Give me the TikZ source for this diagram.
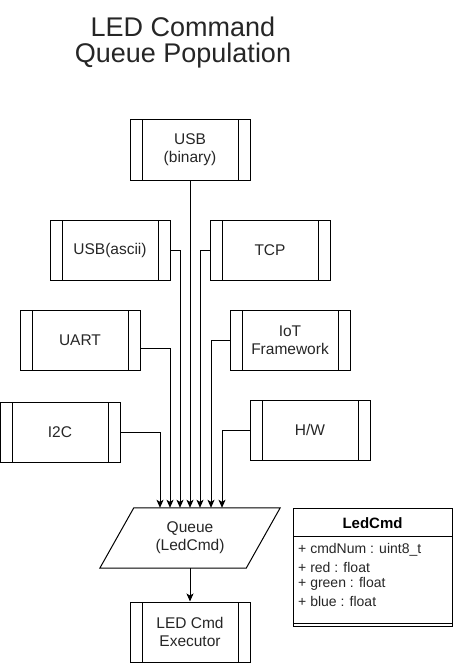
\documentclass[tikz,border=0pt]{standalone}
\usepackage{fontspec}
\setmainfont{Liberation Sans}
\usetikzlibrary{arrows.meta}
\begin{document}
\begin{tikzpicture}[x=1pt,y=-1pt,
  every node/.style={inner sep=0pt, text=black!85},
  proc/.style={draw, line width=1pt, minimum width=120pt, minimum height=60pt,
    align=center, font=\fontsize{15.5}{18}\selectfont,
    path picture={
      \draw[line width=1pt] ([xshift=12pt]path picture bounding box.north west) -- ([xshift=12pt]path picture bounding box.south west);
      \draw[line width=1pt] ([xshift=-12pt]path picture bounding box.north east) -- ([xshift=-12pt]path picture bounding box.south east);
    }},
  conn/.style={line width=1pt, -{Stealth[length=8pt,width=7pt,inset=2pt]}},
  attr/.style={anchor=west, font=\fontsize{14}{16}\selectfont}
]
\useasboundingbox (0,0) rectangle (454,663);

% title
\node[anchor=base, font=\fontsize{27}{26}\selectfont] (title1) at (183,37) {LED Command};
\node[anchor=base, font=\fontsize{27}{26}\selectfont] (title2) at (183,63) {Queue Population};

% sources
\node[proc] (usbb) at (190,150) {USB\\(binary)};
\node[proc] (usba) at (110,250) {USB(ascii)};
\node[proc] (tcp)  at (270,250) {TCP};
\node[proc] (uart) at (80,340)  {UART};
\node[proc] (iot)  at (290,340) {IoT\\Framework};
\node[proc] (i2c)  at (60,432)  {I2C};
\node[proc] (hw)   at (310,430) {H/W};

% queue
\node[minimum width=180pt, minimum height=60pt, align=center,
      font=\fontsize{15.5}{18}\selectfont] (queue) at (190,538) {Queue\\(LedCmd)};
\draw[line width=1pt] ([xshift=34pt]queue.north west) -- (queue.north east)
  -- ([xshift=-34pt]queue.south east) -- (queue.south west) -- cycle;

% executor
\node[proc] (exec) at (190,632) {LED Cmd\\Executor};

% connectors
\draw[conn] (i2c.east) -| ([xshift=-30pt]queue.north);
\draw[conn] ([yshift=-8pt]uart.east) -| ([xshift=-20pt]queue.north);
\draw[conn] (usba.east) -| ([xshift=-10pt]queue.north);
\draw[conn] (usbb.south) -- (queue.north);
\draw[conn] (tcp.west) -| ([xshift=10pt]queue.north);
\draw[conn] (iot.west) -| ([xshift=21pt]queue.north);
\draw[conn] (hw.west) -| ([xshift=32pt]queue.north);
\draw[conn] (queue.south) -- (exec.north);

% class box
\node[draw, line width=1pt, minimum width=159pt, minimum height=118pt, anchor=north west] (cls) at (293,508) {};
\draw[line width=1pt] ([yshift=-28pt]cls.north west) -- ([yshift=-28pt]cls.north east);
\draw[line width=1pt] ([yshift=4pt]cls.south west) -- ([yshift=4pt]cls.south east);
\node[font=\bfseries\fontsize{15}{18}\selectfont, text=black] (clsname) at (372.5,523) {LedCmd};
\node[attr] (a1) at (298,550) {+ cmdNum : uint8\_t};
\node[attr] (a2) at (298,567) {+ red : float};
\node[attr] (a3) at (298,584) {+ green : float};
\node[attr] (a4) at (298,601) {+ blue : float};
\end{tikzpicture}
\end{document}
